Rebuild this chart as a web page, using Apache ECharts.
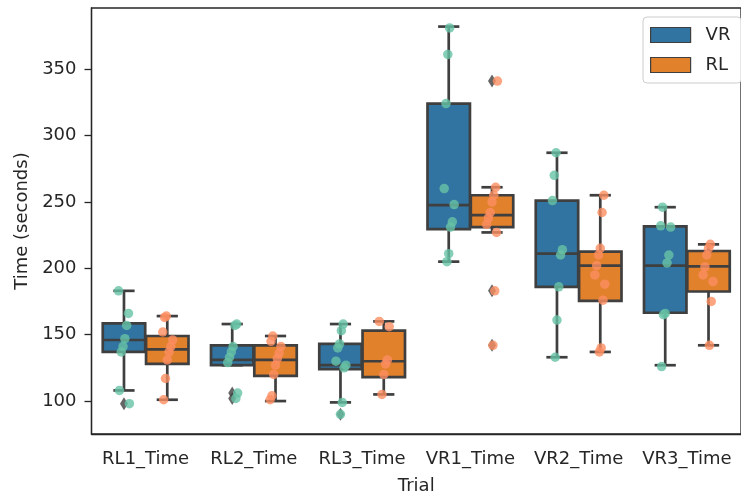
<!DOCTYPE html>
<html><head><meta charset="utf-8">
<script src="https://cdn.jsdelivr.net/npm/echarts@6/dist/echarts.min.js"></script>
<style>html,body{margin:0;padding:0;background:#fff}#c{width:741px;height:500px}</style>
</head><body><div id="c"></div>
<script>
const categories = ['RL1_Time', 'RL2_Time', 'RL3_Time', 'VR1_Time', 'VR2_Time', 'VR3_Time'];
const hues = ['VR', 'RL'];
const yTicks = [100, 150, 200, 250, 300, 350];
// box stats per category: [lower whisker, Q1, median, Q3, upper whisker]
const vrBox = [
  [108, 137, 146, 158.5, 183],
  [127, 127, 131, 142, 158],
  [99, 124, 127, 143, 158],
  [205, 229.5, 247.5, 324, 382],
  [133, 186, 211, 251, 287],
  [127, 166.5, 202, 231.5, 246]
];
const rlBox = [
  [101, 128, 139, 149, 164],
  [100, 119, 131, 142, 149],
  [105, 118, 130, 153, 160],
  [227, 231, 240, 255, 261],
  [137, 175.5, 202, 212.5, 255],
  [142, 182.5, 201.5, 213, 218]
];
// outliers per category
const vrOutliers = [[98], [106, 102], [90], [], [], []];
const rlOutliers = [[], [], [], [341, 183, 142], [], []];
// individual observations per category (strip points)
const vrPoints = [
  [183, 166, 157, 147, 141, 137, 108, 98],
  [158, 157, 141, 137, 133, 129, 106, 102],
  [158, 153, 143, 140, 130, 127, 125, 99, 90],
  [381, 361, 324, 260, 248, 235, 231, 211, 205],
  [287, 270, 251, 214, 210, 186, 161, 133],
  [246, 232, 231, 210, 204, 166, 165, 126]
];
const rlPoints = [
  [164, 163, 152, 146, 141, 137, 131, 117, 101],
  [149, 145, 141, 136, 132, 127, 120, 104, 101],
  [160, 156, 131, 128, 120, 105],
  [341, 261, 255, 250, 242, 238, 233, 227, 183, 142],
  [255, 242, 215, 210, 202, 195, 188, 176, 140, 137],
  [218, 215, 210, 201, 195, 190, 175, 142]
];

const FONT = 'DejaVu Sans';
const TXT = '#262626';
const LINE = '#3f3f3f';
const LW = 2.7;
const boxColors = ['#3274a1', '#e1812c'];
const ptColors = ['#66c2a5', '#fc8d62'];
const HUE_OFF = [-0.2, 0.2];

function boxRender(h) {
  return function (params, api) {
    const cat = api.value(0);
    const band = api.size([1, 0])[0];
    const w = 0.392 * band;
    const cx = api.coord([cat, 0])[0] + HUE_OFF[h] * band;
    const y = i => api.coord([cat, api.value(i)])[1];
    const lo = y(1), q1 = y(2), md = y(3), q3 = y(4), hi = y(5);
    const cap = w * 0.5;
    const ls = { stroke: LINE, lineWidth: LW };
    return {
      type: 'group',
      children: [
        { type: 'line', shape: { x1: cx, y1: q3, x2: cx, y2: hi }, style: ls },
        { type: 'line', shape: { x1: cx, y1: q1, x2: cx, y2: lo }, style: ls },
        { type: 'line', shape: { x1: cx - cap / 2, y1: hi, x2: cx + cap / 2, y2: hi }, style: ls },
        { type: 'line', shape: { x1: cx - cap / 2, y1: lo, x2: cx + cap / 2, y2: lo }, style: ls },
        { type: 'rect', shape: { x: cx - w / 2, y: q3, width: w, height: q1 - q3 },
          style: { fill: boxColors[h], stroke: LINE, lineWidth: LW } },
        { type: 'line', shape: { x1: cx - w / 2, y1: md, x2: cx + w / 2, y2: md }, style: ls }
      ]
    };
  };
}

function jitter(i, k, h) {
  return (((k * 37 + i * 11 + h * 5) % 13) - 6) / 6 * 0.05;
}

const series = [];
[vrBox, rlBox].forEach((bx, h) => {
  series.push({
    name: hues[h],
    type: 'custom',
    xAxisIndex: 0, yAxisIndex: 0,
    renderItem: boxRender(h),
    itemStyle: { color: boxColors[h], borderColor: LINE, borderWidth: 1.2 },
    encode: { x: 0, y: [1, 2, 3, 4, 5] },
    data: bx.map((s, i) => [i].concat(s)),
    z: 2
  });
});
[vrOutliers, rlOutliers].forEach((ol, h) => {
  const d = [];
  ol.forEach((vals, i) => vals.forEach(v => d.push([i + HUE_OFF[h], v])));
  series.push({
    type: 'scatter', xAxisIndex: 1, yAxisIndex: 0,
    symbol: 'diamond', symbolSize: [8, 13],
    itemStyle: { color: LINE },
    data: d, z: 3, silent: true
  });
});
[vrPoints, rlPoints].forEach((pts, h) => {
  const d = [];
  pts.forEach((vals, i) => vals.forEach((v, k) => d.push([i + HUE_OFF[h] + jitter(i, k, h), v])));
  series.push({
    type: 'scatter', xAxisIndex: 1, yAxisIndex: 0,
    symbol: 'circle', symbolSize: 9.5,
    itemStyle: { color: ptColors[h], opacity: 0.8 },
    data: d, z: 4, silent: true
  });
});

const chart = echarts.init(document.getElementById('c'), null, { renderer: 'canvas' });
chart.setOption({
  animation: false,
  backgroundColor: '#fff',
  textStyle: { fontFamily: FONT },
  grid: { left: 91.5, top: 8, width: 659, height: 428, show: true, borderColor: TXT, borderWidth: 1.3, backgroundColor: 'transparent' },
  legend: {
    data: hues.map(n => ({ name: n, icon: 'rect' })),
    orient: 'vertical',
    left: 643, top: 17,
    padding: [9, 11, 9, 7],
    itemWidth: 40, itemHeight: 15, itemGap: 12,
    itemStyle: { borderColor: LINE, borderWidth: 1.2 },
    textStyle: { fontSize: 18, color: TXT, fontFamily: FONT, padding: [0, 0, 0, 10] },
    backgroundColor: 'rgba(255,255,255,0.85)',
    borderColor: '#cccccc', borderWidth: 1, borderRadius: 4
  },
  xAxis: [
    {
      type: 'category', data: categories, boundaryGap: true,
      name: 'Trial', nameLocation: 'middle', nameGap: 43,
      nameTextStyle: { fontSize: 18, color: TXT, fontFamily: FONT },
      axisLine: { onZero: false, lineStyle: { color: TXT, width: 1.3 } },
      axisTick: { alignWithLabel: true, length: 7, lineStyle: { color: TXT, width: 1.3 } },
      axisLabel: { interval: 0, fontSize: 18, color: TXT, margin: 16, fontFamily: FONT, hideOverlap: false },
      splitLine: { show: false }
    },
    { type: 'value', min: -0.5, max: 5.5, show: false, gridIndex: 0, axisLine: { onZero: false } }
  ],
  yAxis: {
    type: 'value', min: 75.2, max: 396,
    name: 'Time (seconds)', nameLocation: 'middle', nameGap: 60,
    nameTextStyle: { fontSize: 18, color: TXT, fontFamily: FONT },
    axisLine: { show: true, onZero: false, lineStyle: { color: TXT, width: 1.3 } },
    axisTick: { show: true, length: 7, customValues: yTicks, lineStyle: { color: TXT, width: 1.3 } },
    axisLabel: { fontSize: 18, color: TXT, margin: 15, customValues: yTicks, fontFamily: FONT },
    splitLine: { show: false }
  },
  series: series
});
</script>
</body></html>
